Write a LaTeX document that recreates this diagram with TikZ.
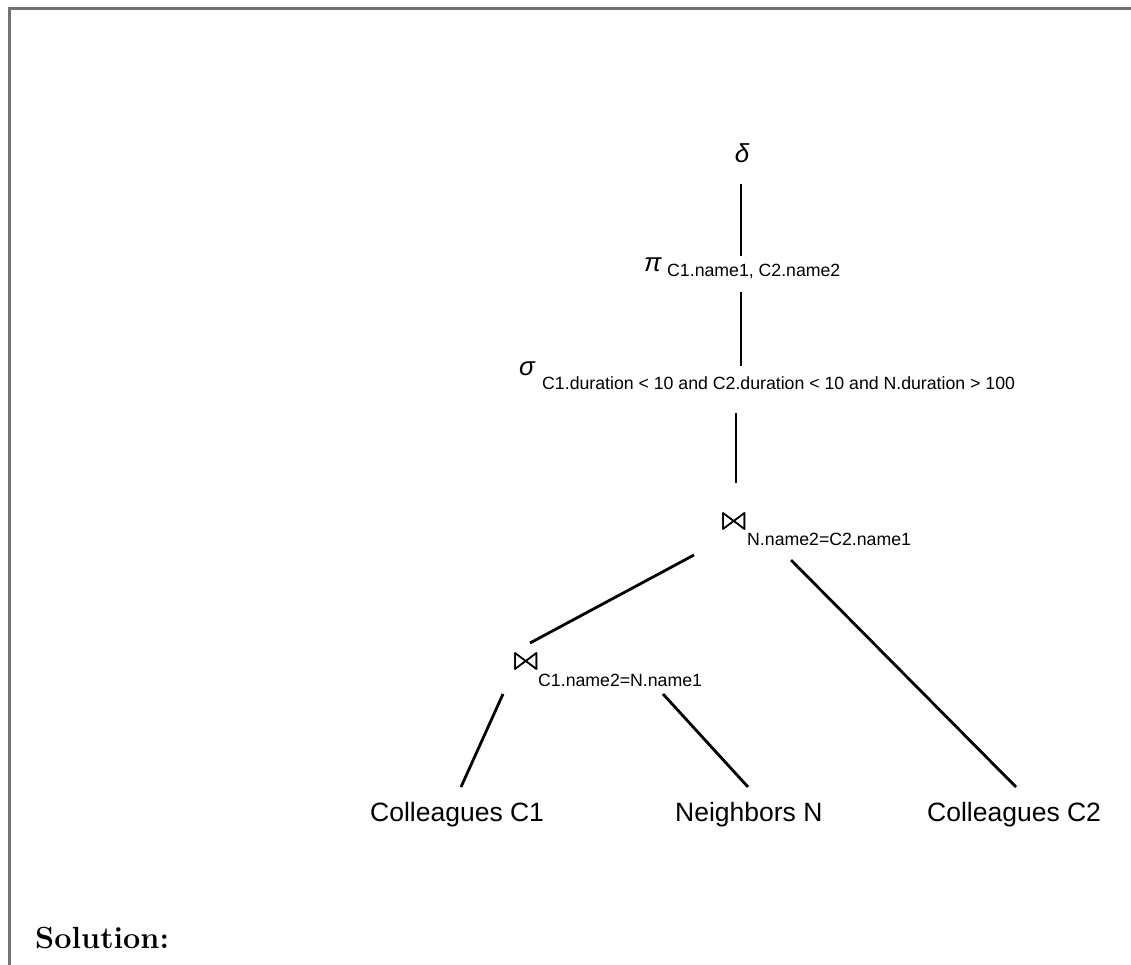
\documentclass[tikz,border=0pt]{standalone}
\usepackage{amssymb}
\usepackage{graphicx}
\usepackage{fontspec}
\newfontfamily\lab{Liberation Sans}
\usetikzlibrary{calc}
\newcommand{\joinglyph}{\resizebox{38pt}{21pt}{$\Join$}}
\begin{document}
\begin{tikzpicture}[x=1pt,y=-1pt,
  leaf/.style={font=\lab\fontsize{26.5}{30}\selectfont, inner sep=0pt, anchor=base west},
  subtext/.style={font=\lab\fontsize{17.7}{20}\selectfont, inner sep=0pt, anchor=base west},
  greek/.style={font=\lab\itshape\fontsize{26}{30}\selectfont, inner sep=0pt, anchor=base west},
  joinsym/.style={inner sep=0pt},
  edge/.style={line width=2.8pt, draw=black},
  frame/.style={line width=3pt, draw=black!55}]
\useasboundingbox (0,0) rectangle (1131,965);
\draw[frame] (9.5,965) -- (9.5,9) -- (1131,9);

\node[greek, anchor=base] (delta) at (742,163) {δ};
\node[greek] (pi) at (644,272) {π};
\node[subtext] (pisub) at (667,277) {C1.name1, C2.name2};
\node[greek] (sigma) at (519,375) {σ};
\node[subtext] (sigmasub) at (542,389) {C1.duration < 10 and C2.duration < 10 and N.duration > 100};
\node[joinsym] (join1) at (734,521.5) {\joinglyph};
\node[subtext] (join1sub) at (747,545) {N.name2=C2.name1};
\node[joinsym] (join2) at (526,661.5) {\joinglyph};
\node[subtext] (join2sub) at (538,686) {C1.name2=N.name1};
\node[leaf] (c1) at (370,821) {Colleagues C1};
\node[leaf] (nb) at (675,821) {Neighbors N};
\node[leaf] (c2) at (927,821) {Colleagues C2};

\node[font=\fontsize{30.6}{36}\selectfont\bfseries, inner sep=0pt, anchor=base west] (sol) at (35,948) {Solution:};

\draw[edge] ($(delta.base)+(-1,21)$) -- ($(pi.base west)+(97,-16)$);
\draw[edge] ($(pi.base west)+(97,20)$) -- ($(sigma.base west)+(222,-9)$);
\draw[edge] ($(sigma.base west)+(217,38)$) -- ($(join1)+(2,-38.5)$);
\draw[edge] ($(join1)+(-40,33.5)$) -- ($(join2)+(4,-18.5)$);
\draw[edge] ($(join1)+(57,38.5)$) -- ($(c2.base west)+(89,-34)$);
\draw[edge] ($(join2)+(-23,32.5)$) -- ($(c1.base west)+(91,-34)$);
\draw[edge] ($(join2)+(137,32.5)$) -- ($(nb.base west)+(73,-34)$);
\end{tikzpicture}
\end{document}
